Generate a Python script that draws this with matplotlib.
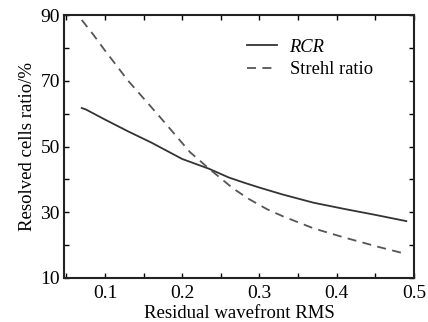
import numpy as np
import matplotlib
matplotlib.use("Agg")
import matplotlib.pyplot as plt
from matplotlib.ticker import MultipleLocator

# values
rcr_x = [0.07, 0.075, 0.10, 0.13, 0.16, 0.20, 0.235, 0.26, 0.28, 0.30, 0.33, 0.37, 0.41, 0.45, 0.49]
rcr_y = [61.7, 61.3, 58.2, 54.6, 51.2, 46.2, 43.2, 40.6, 39.0, 37.5, 35.4, 32.9, 31.0, 29.2, 27.3]

strehl_x = [0.07, 0.085, 0.10, 0.13, 0.17, 0.21, 0.235, 0.265, 0.285, 0.31, 0.33, 0.37, 0.41, 0.455, 0.49]
strehl_y = [88.5, 84.0, 79.2, 70.0, 59.3, 48.3, 43.2, 37.4, 34.2, 30.9, 28.8, 25.1, 22.3, 19.4, 17.3]

x_ticks = [0.1, 0.2, 0.3, 0.4, 0.5]
y_ticks = [10, 30, 50, 70, 90]

plt.rcParams['font.family'] = ['Liberation Serif', 'DejaVu Serif']
plt.rcParams['font.size'] = 13

fig = plt.figure(figsize=(4.28, 3.22), dpi=100)
ax = fig.add_axes([64/428, 1-278/322, 350/428, 263/322])

ax.plot(rcr_x, rcr_y, color='#333333', lw=1.3, label='RCR')
ax.plot(strehl_x, strehl_y, color='#555555', lw=1.3, linestyle=(0, (5, 3.5)), label='Strehl ratio')

ax.set_xlim(0.047, 0.5)
ax.set_ylim(10, 90)
ax.set_xticks(x_ticks)
ax.set_yticks(y_ticks)
ax.xaxis.set_minor_locator(MultipleLocator(0.05))
ax.yaxis.set_minor_locator(MultipleLocator(10))
ax.tick_params(which='both', direction='in', top=True, right=True, length=3.5, width=1, labelsize=14)
ax.tick_params(axis='x', pad=5)
ax.tick_params(axis='y', pad=3)
for s in ax.spines.values():
    s.set_linewidth(1.5)
    s.set_color('#222222')

ax.set_xlabel('Residual wavefront RMS', fontsize=13.5, labelpad=2)
ax.set_ylabel('Resolved cells ratio/%', fontsize=13.5, labelpad=3)

leg = ax.legend(loc='upper left', bbox_to_anchor=(0.523, 0.91), frameon=False,
                borderpad=0, borderaxespad=0, handlelength=1.6, handletextpad=0.7,
                labelspacing=0.3, fontsize=13.3)
leg.get_texts()[0].set_fontstyle('italic')

fig.savefig('out.png', dpi=100)
